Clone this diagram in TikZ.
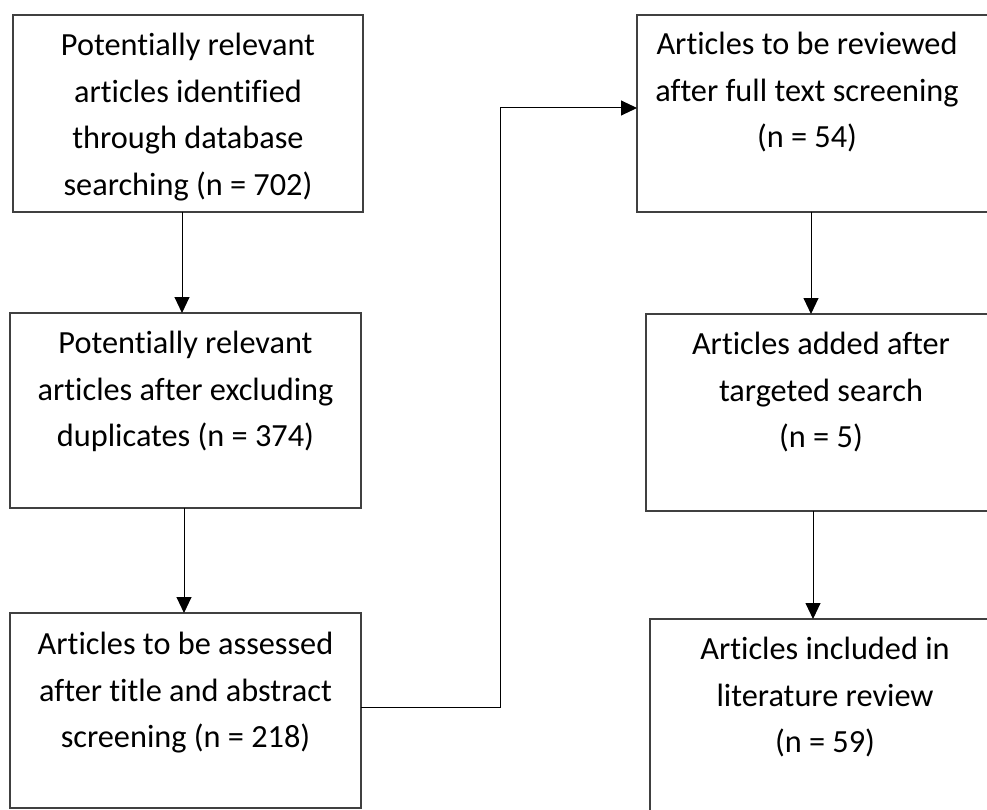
\documentclass[tikz,border=0pt]{standalone}
\usepackage{fontspec}
\setmainfont{Carlito}[Ligatures=NoCommon]
\usetikzlibrary{arrows.meta,positioning}
\definecolor{flowEdge}{HTML}{404040}
\definecolor{flowInk}{HTML}{000000}
\tikzset{
  flow diagram/.style={
    line width=1pt,
    >={Triangle[length=16pt,width=15pt]},
    every node/.style={inner sep=0pt, outer sep=0pt}
  },
  flow box/.style={draw=flowEdge, line width=1.3pt, rectangle,
    minimum width=#1, minimum height=197pt},
  flow text/.style={align=center, text=flowInk,
    font=\fontsize{32.3}{46.7}\selectfont},
  flow arrow/.style={draw=flowInk, ->}
}

\begin{document}
\begin{tikzpicture}[flow diagram,x=1pt,y=-1pt]
  \useasboundingbox (0,0) rectangle (987,810);
  \clip (0,0) rectangle (987,810);
  % left column
  \node[flow box=350pt, minimum height=197pt] (found) at (188,113.5) {};
  \node[flow box=351pt, minimum height=195pt] (unique) at (185.5,410.5) {};
  \node[flow box=351pt, minimum height=195pt] (screened) at (185.5,710.5) {};
  % right column, cut off at the right margin
  \node[flow box=352pt] (reviewed) at (813,113.5) {};
  \node[flow box=350pt] (added) at (821,412.5) {};
  \node[flow box=350pt] (included) at (825,717.5) {};
  % texts
  \node[flow text, below=18pt of found.north] {Potentially relevant\\articles identified\\through database\\searching (n = 702)};
  \node[flow text, below=18pt of unique.north] {Potentially relevant\\articles after excluding\\duplicates (n = 374)};
  \node[flow text, below=19pt of screened.north] {Articles to be assessed\\after title and abstract\\screening (n = 218)};
  \node[flow text, below=17pt of reviewed.north, xshift=-6pt] {Articles to be reviewed\\after full text screening\\(n = 54)};
  \node[flow text, below=18pt of added.north] {Articles added after\\targeted search\\(n = 5)};
  \node[flow text, below=18pt of included.north] {Articles included in\\literature review\\(n = 59)};
  % connectors
  \coordinate (bend) at (500,0);
  \draw[flow arrow] ([xshift=-6pt]found.south) -- ([xshift=-6pt]found.south |- unique.north);
  \draw[flow arrow] ([xshift=-1.5pt]unique.south) -- ([xshift=-1.5pt]unique.south |- screened.north);
  \draw[flow arrow] ([yshift=3.5pt]screened.east) -- ([yshift=3.5pt]screened.east -| bend) |- ([yshift=5.5pt]reviewed.west);
  \draw[flow arrow] ([xshift=-2pt]reviewed.south) -- ([xshift=-2pt]reviewed.south |- added.north);
  \draw[flow arrow] ([xshift=-8pt]added.south) -- ([xshift=-8pt]added.south |- included.north);
\end{tikzpicture}
\end{document}
